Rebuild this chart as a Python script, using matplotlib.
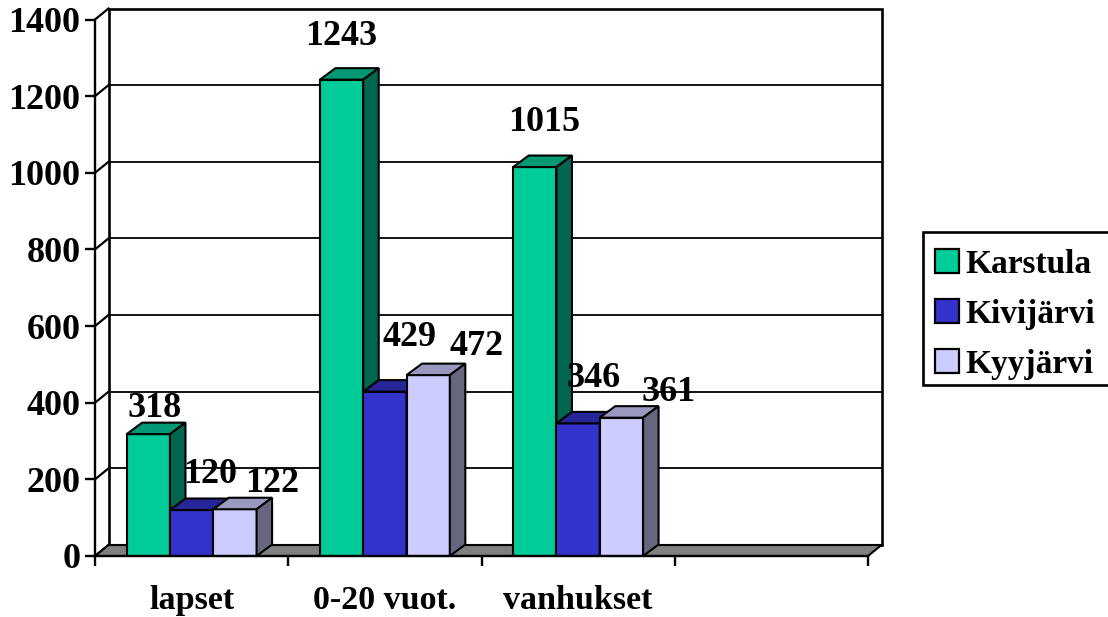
import matplotlib
matplotlib.use('Agg')
from matplotlib import pyplot as plt
from matplotlib.patches import Patch, Polygon, Rectangle

plt.rcParams['font.family'] = ['Liberation Serif', 'DejaVu Serif']
plt.rcParams['font.weight'] = 'bold'

CATEGORIES = ['lapset', '0-20 vuot.', 'vanhukset']
SERIES = ['Karstula', 'Kivijärvi', 'Kyyjärvi']
KARSTULA = [318, 1243, 1015]
KIVIJARVI = [120, 429, 346]
KYYJARVI = [122, 472, 361]
VALUES = [KARSTULA, KIVIJARVI, KYYJARVI]
Y_TICKS = [0, 200, 400, 600, 800, 1000, 1200, 1400]

FRONT = ['#00CC99', '#3333CC', '#CCCCFF']
TOP = ['#009973', '#262699', '#9999BF']
SIDE = ['#006650', '#1A1A66', '#666680']

# label offsets from the top centre of the bar front, in pixels
LABEL_DX = [[6, 18, 37], [0, 25, 48], [9, 15, 47]]
LABEL_DY = [[26, 36, 26], [43, 54, 29], [45, 45, 25]]

FIG_W, FIG_H = 1108, 617
LEFT, RIGHT, BASE, TOP_Y = 95, 868, 556, 19.5
PX_X = 4 / (RIGHT - LEFT)
PX_Y = 1400 / (BASE - TOP_Y)
WALL_DX, WALL_DY = 13.5 * PX_X, 11 * PX_Y
BAR_DX, BAR_DY = 15.5 * PX_X, 11.5 * PX_Y
BAR_W = 43.3 * PX_X
LW = 1.5

fig = plt.figure(figsize=(FIG_W / 100, FIG_H / 100), dpi=100)
ax = fig.add_axes([LEFT / FIG_W, 1 - BASE / FIG_H, (RIGHT - LEFT) / FIG_W, (BASE - TOP_Y) / FIG_H])
ax.set_xlim(0, 4)
ax.set_ylim(0, 1400)
ax.patch.set_visible(False)
for side in ('top', 'right'):
    ax.spines[side].set_visible(False)
for side in ('left', 'bottom'):
    ax.spines[side].set_linewidth(1.7)
    ax.spines[side].set_zorder(8)

# back wall, gridlines and floor
ax.add_patch(Polygon([(WALL_DX, WALL_DY), (4 + WALL_DX, WALL_DY), (4 + WALL_DX, 1400 + WALL_DY),
                      (WALL_DX, 1400 + WALL_DY)], facecolor='white', edgecolor='black',
                     lw=1.9, clip_on=False, zorder=0))
for tick in Y_TICKS[1:-1]:
    ax.plot([WALL_DX, 4 + WALL_DX], [tick + WALL_DY] * 2, color='black', lw=1.3, clip_on=False, zorder=1)
for tick in Y_TICKS:
    ax.plot([0, WALL_DX], [tick, tick + WALL_DY], color='black', lw=1.6, clip_on=False, zorder=1)
ax.add_patch(Polygon([(0, 0), (WALL_DX, WALL_DY), (4 + WALL_DX, WALL_DY), (4, 0)],
                     facecolor='#808080', edgecolor='black', lw=LW, clip_on=False, zorder=2))

gap = (1 - 3 * BAR_W) / 2
for s, series_values in enumerate(VALUES):
    z_order = 3 + s
    lefts = [c + gap + s * BAR_W for c in range(len(CATEGORIES))]
    ax.bar(lefts, series_values, BAR_W, align='edge', color=FRONT[s], edgecolor='black', lw=LW, zorder=z_order)
    for x_left, value in zip(lefts, series_values):
        x_right = x_left + BAR_W
        ax.add_patch(Polygon([(x_left, value), (x_left + BAR_DX, value + BAR_DY),
                              (x_right + BAR_DX, value + BAR_DY), (x_right, value)],
                             facecolor=TOP[s], edgecolor='black', lw=LW, clip_on=False, zorder=z_order))
        ax.add_patch(Polygon([(x_right, 0), (x_right + BAR_DX, BAR_DY),
                              (x_right + BAR_DX, value + BAR_DY), (x_right, value)],
                             facecolor=SIDE[s], edgecolor='black', lw=LW, clip_on=False, zorder=z_order))

for s, series_values in enumerate(VALUES):
    for c, value in enumerate(series_values):
        x_mid = c + gap + (s + 0.5) * BAR_W
        ax.annotate(str(value), (x_mid, value), xytext=(LABEL_DX[c][s] * 0.72, LABEL_DY[c][s] * 0.72),
                    textcoords='offset points', ha='center', va='center', fontsize=26,
                    fontweight='bold', annotation_clip=False, zorder=9)

ax.set_yticks(Y_TICKS)
ax.set_yticklabels([str(t) for t in Y_TICKS])
ax.set_xticks(range(5))
ax.set_xticklabels([])
ax.set_xticks([c + 0.5 for c in range(len(CATEGORIES))], labels=CATEGORIES, minor=True)
ax.tick_params(axis='both', which='major', length=7, width=1.7, labelsize=26, pad=3.5)
ax.tick_params(axis='x', which='minor', length=0, labelsize=24.5, pad=21)

# frame drawn apart from the legend so the rows can sit low inside it, as in the original
fig.add_artist(Rectangle((923 / FIG_W, 1 - 385 / FIG_H), 200 / FIG_W, 153 / FIG_H, transform=fig.transFigure,
                         facecolor='white', edgecolor='black', lw=1.9, zorder=5))
handles = [Patch(facecolor=FRONT[s], edgecolor='black', lw=1.6) for s in range(3)]
legend = fig.legend(handles, SERIES, loc='upper left', bbox_to_anchor=(923 / FIG_W, 1 - 237 / FIG_H),
                    bbox_transform=fig.transFigure, fontsize=24, frameon=False,
                    borderaxespad=0, borderpad=0.35,
                    handlelength=0.72, handleheight=0.72, handletextpad=0.2, labelspacing=0.575)
legend.set_zorder(6)

fig.savefig('out.png', dpi=100)
